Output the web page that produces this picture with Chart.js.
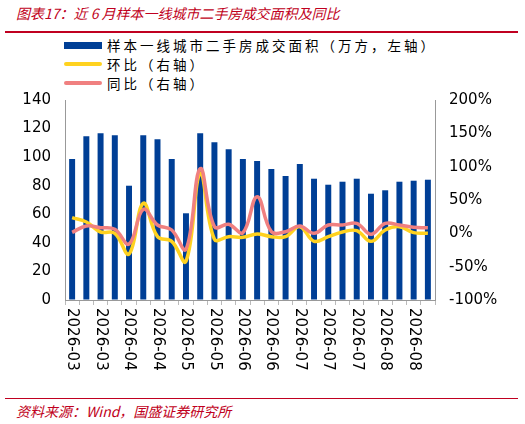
<!DOCTYPE html>
<html><head><meta charset="utf-8">
<script src="https://cdn.jsdelivr.net/npm/chart.js@4"></script>
<style>
body{margin:0;width:525px;height:424px;position:relative;font-family:"Noto Sans CJK SC","DejaVu Sans",sans-serif;background:#fff;overflow:hidden}
#c{position:absolute;left:0;top:0}
.t{position:absolute;color:#c00020;font-style:italic;font-size:14px}
.hr{position:absolute;left:5px;width:513px;height:2px;background:#c00020}
.lg{position:absolute;left:64px;font-size:13.5px;color:#000;display:flex;align-items:center;letter-spacing:3px}
.lg span.s{display:inline-block;width:38px;margin-right:5px}
</style></head><body>
<div class="t" style="left:16px;top:3px">图表17：近 6 月样本一线城市二手房成交面积及同比</div>
<div class="hr" style="top:31px"></div>
<div class="lg" style="top:35px"><span class="s" style="height:7px;background:#003f96"></span>样本一线城市二手房成交面积（万方，左轴）</div>
<div class="lg" style="top:54px"><span class="s" style="height:4px;background:#FFD21F;border-radius:2px"></span>环比（右轴）</div>
<div class="lg" style="top:73px"><span class="s" style="height:4px;background:#F08080;border-radius:2px"></span>同比（右轴）</div>
<div class="hr" style="top:398px;height:1px"></div>
<div class="t" style="left:16px;top:401px">资料来源：Wind，国盛证券研究所</div>
<canvas id="c" width="525" height="424"></canvas>
<script>
const labels=["2026-03","2026-03","2026-03","2026-03","2026-04","2026-04","2026-04","2026-04","2026-05","2026-05","2026-05","2026-05","2026-06","2026-06","2026-06","2026-06","2026-07","2026-07","2026-07","2026-07","2026-07","2026-07","2026-08","2026-08","2026-08","2026-08"];
const shownLabels=["2026-03","2026-03","2026-04","2026-04","2026-05","2026-05","2026-06","2026-06","2026-07","2026-07","2026-07","2026-08","2026-08"];
const area=[98.7,114.6,116.7,115.3,80,115.3,112.5,98.7,60.7,116.7,110.4,105.5,98.7,97.3,91.7,86.8,95.2,84.9,80.7,82.8,84.9,74.4,76.8,82.8,83.5,84.2];
const mom=[23.5,17,2,0,-31,45,-5,-12,-42,90,-9,-5,-6,-1,-5,-5,10,-12,-5,2,4,-12,5,10,1,0];
const yoy=[1.5,11,8.5,6,-16,36,12.5,5,-24,97,10,13.5,1,55,2.5,2.5,11,0,12.5,12.5,15,-1.5,15,12.5,9,8.5];
const f={family:"DejaVu Sans",size:15};
const xlab={id:'xlab',afterDraw(ch){const c=ch.ctx,x=ch.scales.x;c.save();c.font='15px "DejaVu Sans"';c.fillStyle='#000';c.textAlign='left';c.textBaseline='middle';
 shownLabels.forEach((l,k)=>{const px=x.getPixelForValue(k*2);c.save();c.translate(px,x.top+8);c.rotate(Math.PI/2);c.fillText(l,0,0);c.restore();});c.restore();}};
new Chart(document.getElementById('c'),{
 data:{labels,datasets:[
  {type:'line',data:yoy,yAxisID:'y1',borderColor:'#F08080',borderWidth:3.5,pointRadius:0,tension:0.4},
  {type:'line',data:mom,yAxisID:'y1',borderColor:'#FFD21F',borderWidth:3.5,pointRadius:0,tension:0.4},
  {type:'bar',data:area,yAxisID:'y',backgroundColor:'#003f96',barPercentage:0.42,categoryPercentage:1}
 ]},
 plugins:[xlab],
 options:{responsive:false,animation:false,layout:{padding:{top:100,left:0,right:0,bottom:0}},
  plugins:{legend:{display:false},tooltip:{enabled:false}},
  scales:{
   x:{grid:{display:true,drawOnChartArea:false,offset:true,color:'#bbb',tickLength:5},border:{color:'#999'},
      ticks:{display:false},
      afterFit:s=>{s.height=124}},
   y:{position:'left',min:0,max:140,ticks:{stepSize:20,color:'#000',font:f,padding:14},grid:{drawOnChartArea:false,color:'#999',tickLength:0},border:{color:'#999'},
      afterFit:s=>{s.width=65}},
   y1:{position:'right',min:-100,max:200,ticks:{stepSize:50,color:'#000',font:f,padding:14,callback:v=>v+'%'},grid:{drawOnChartArea:false,color:'#999',tickLength:0},border:{color:'#999'},
      afterFit:s=>{s.width=90}}
  }}
});
</script></body></html>
